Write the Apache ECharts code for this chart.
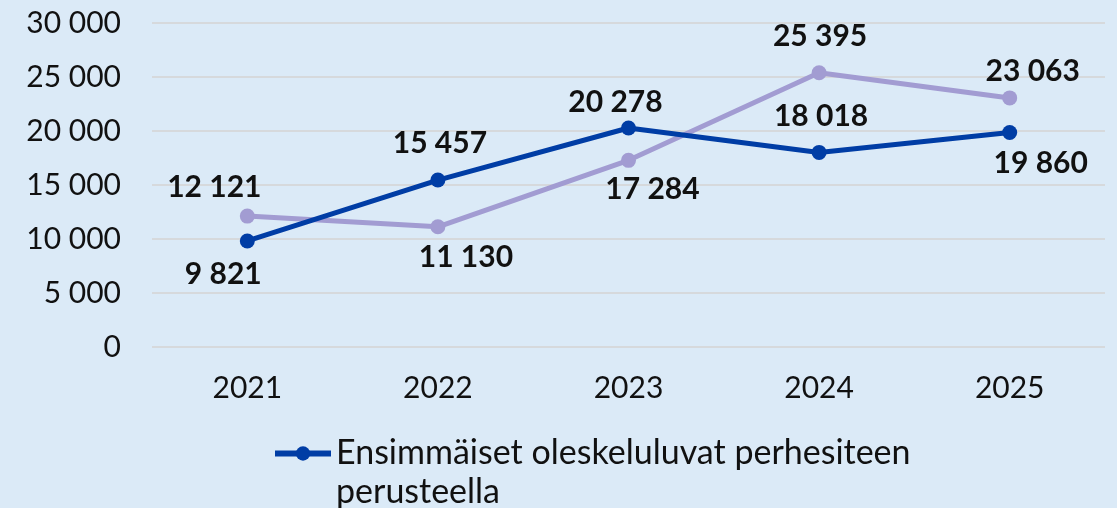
<!DOCTYPE html>
<html><head><meta charset="utf-8">
<script src="https://cdn.jsdelivr.net/npm/echarts@6/dist/echarts.min.js"></script>
<style>html,body{margin:0;padding:0;background:#dbeaf7;}#c{width:1117px;height:508px;}</style>
</head><body><div id="c"></div>
<script>
const years = ['2021','2022','2023','2024','2025'];
const familyName = 'Ensimmäiset oleskeluluvat perhesiteen perusteella';
const familyValues = [9821, 15457, 20278, 18018, 19860];
const otherName = 'Sarja 2';
const otherValues = [12121, 11130, 17284, 25395, 23063];
const yTicks = [0, 5000, 10000, 15000, 20000, 25000, 30000];

// label placement (style config, pixels relative to each point)
const familyLabelOffsets = [[-24, 33], [2, -37], [-13, -26], [2, -36], [31, 31]];
const otherLabelOffsets = [[-33, -29], [28, 31], [24, 29], [1, -36], [23, -27]];

const fmt = v => String(v).replace(/\B(?=(\d{3})+(?!\d))/g, ' ');
const FONT = 'Lato, "DejaVu Sans", sans-serif';

function mk(values, offsets) {
  return values.map((v, i) => ({ value: v, label: { position: 'inside', offset: offsets[i] } }));
}
const labelStyle = { show: true, color: '#111', fontSize: 30, fontWeight: 'bold', fontFamily: FONT, formatter: p => fmt(p.value) };
const chart = echarts.init(document.getElementById('c'));
chart.setOption({
  backgroundColor: '#dbeaf7',
  animation: false,
  grid: { left: 152, right: 12, top: 23, bottom: 161 },
  xAxis: {
    type: 'category', data: years, boundaryGap: true,
    axisLine: { show: false }, axisTick: { show: false },
    axisLabel: { color: '#111', fontSize: 30, fontFamily: FONT, margin: 26 }
  },
  yAxis: {
    type: 'value', min: yTicks[0], max: yTicks[yTicks.length - 1], interval: 5000,
    axisLine: { show: false }, axisTick: { show: false },
    splitLine: { lineStyle: { color: '#d6d9dc', width: 2 } },
    axisLabel: { color: '#111', fontSize: 30, fontFamily: FONT, margin: 31, formatter: v => fmt(v) }
  },
  legend: {
    data: [familyName], left: 267, top: 390, itemWidth: 56, itemHeight: 18, itemGap: 8,
    lineStyle: { width: 6 },
    formatter: n => '\nEnsimmäiset oleskeluluvat perhesiteen\nperusteella',
    textStyle: { color: '#111', fontSize: 34, fontFamily: FONT, lineHeight: 39 }
  },
  series: [
    {
      name: otherName, type: 'line', data: mk(otherValues, otherLabelOffsets),
      color: '#a29cd2', symbol: 'circle', symbolSize: 15,
      lineStyle: { width: 5, color: '#a29cd2' },
      itemStyle: { color: '#a29cd2' },
      label: labelStyle
    },
    {
      name: familyName, type: 'line', data: mk(familyValues, familyLabelOffsets),
      color: '#003da5', symbol: 'circle', symbolSize: 15,
      lineStyle: { width: 5, color: '#003da5' },
      itemStyle: { color: '#003da5' },
      label: labelStyle
    }
  ]
});
</script></body></html>
